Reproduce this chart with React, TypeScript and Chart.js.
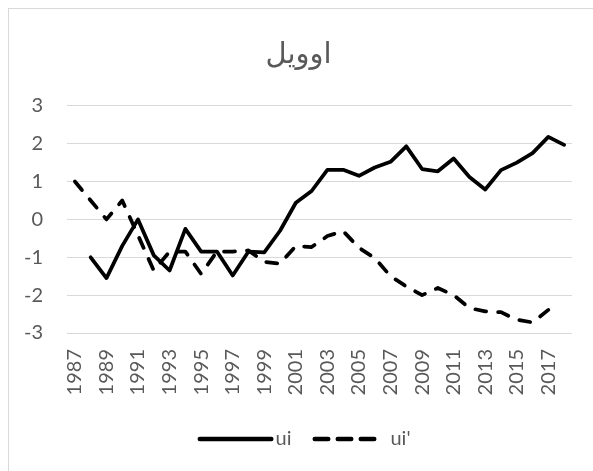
import React, { useEffect, useRef } from "react";
import { Chart, registerables } from "chart.js";

Chart.register(...registerables);

const years: string[] = [
  "1987", "1988", "1989", "1990", "1991", "1992", "1993", "1994", "1995", "1996",
  "1997", "1998", "1999", "2000", "2001", "2002", "2003", "2004", "2005", "2006",
  "2007", "2008", "2009", "2010", "2011", "2012", "2013", "2014", "2015", "2016",
  "2017", "2018",
];

const ui: (number | null)[] = [
  null, -1.0, -1.55, -0.7, 0.0, -0.95, -1.35, -0.25, -0.85, -0.85,
  -1.48, -0.85, -0.87, -0.3, 0.44, 0.75, 1.31, 1.31, 1.15, 1.37,
  1.52, 1.93, 1.33, 1.27, 1.61, 1.12, 0.79, 1.3, 1.5, 1.75,
  2.18, 1.97,
];

const uiPrime: (number | null)[] = [
  1.0, 0.5, 0.0, 0.5, -0.42, -1.35, -0.85, -0.85, -1.44, -0.85,
  -0.85, -0.82, -1.12, -1.17, -0.7, -0.73, -0.44, -0.31, -0.75, -1.02,
  -1.5, -1.77, -2.0, -1.81, -2.0, -2.34, -2.43, -2.45, -2.65, -2.72,
  -2.39, null,
];

const yTicks: number[] = [-3, -2, -1, 0, 1, 2, 3];

const titleText = "اوویل";
const seriesNames = ["ui", "ui'"];

const TICK_FONT = 'Lato, "Open Sans", sans-serif';

// legend sample: 160px-wide image, line drawn from x=51.5 over 76px
function makeLegendImage(dashed: boolean): HTMLCanvasElement {
  const c = document.createElement("canvas");
  c.width = 160;
  c.height = 8;
  const ctx = c.getContext("2d")!;
  ctx.strokeStyle = "#000000";
  ctx.lineWidth = 4.5;
  ctx.lineCap = "round";
  ctx.beginPath();
  const x0 = 51.5 + 2.25;
  if (dashed) {
    ctx.setLineDash([13.5, 9.5]);
    ctx.moveTo(x0, 4);
    ctx.lineTo(x0 + 59.5, 4);
  } else {
    ctx.moveTo(x0, 4);
    ctx.lineTo(x0 + 71.5, 4);
  }
  ctx.stroke();
  return c;
}

export default function App() {
  const ref = useRef<HTMLCanvasElement | null>(null);

  useEffect(() => {
    if (!ref.current) return;
    const legendImgs = [makeLegendImage(false), makeLegendImage(true)];
    const chart = new Chart(ref.current, {
      type: "line",
      data: {
        labels: years,
        datasets: [
          {
            label: seriesNames[0],
            data: ui,
            borderColor: "#000000",
            backgroundColor: "#000000",
            borderWidth: 3.75,
            borderCapStyle: "round",
            borderJoinStyle: "round",
            pointRadius: 0,
            tension: 0,
          },
          {
            label: seriesNames[1],
            data: uiPrime,
            borderColor: "#000000",
            backgroundColor: "#000000",
            borderWidth: 3.75,
            borderDash: [11, 12],
            borderCapStyle: "round",
            borderJoinStyle: "round",
            pointRadius: 0,
            tension: 0,
          },
        ],
      },
      options: {
        responsive: false,
        animation: false,
        layout: { padding: { left: 16, right: 21, top: 0, bottom: 12 } },
        plugins: {
          tooltip: { enabled: false },
          title: {
            display: true,
            text: titleText,
            color: "#595959",
            font: { family: '"DejaVu Sans", sans-serif', size: 29, weight: "normal" },
            padding: { top: 29, bottom: 33 },
          },
          legend: {
            display: true,
            position: "bottom",
            labels: {
              color: "#595959",
              font: { family: TICK_FONT, size: 20 },
              usePointStyle: true,
              pointStyleWidth: 79,
              padding: 10,
              generateLabels: (c: any) =>
                Chart.defaults.plugins.legend.labels
                  .generateLabels(c)
                  .map((item: any, i: number) => ({ ...item, pointStyle: legendImgs[i] })),
            },
          },
        },
        scales: {
          x: {
            type: "category",
            offset: true,
            grid: { display: false, drawTicks: false },
            border: { display: false },
            afterFit: (axis: any) => {
              axis.paddingLeft = 0;
              axis.paddingRight = 0;
              axis.height = 86;
            },
            ticks: {
              autoSkip: false,
              maxRotation: 90,
              minRotation: 90,
              padding: 16,
              color: "#595959",
              font: { family: TICK_FONT, size: 20 },
              callback: (_v: any, i: number) => (i % 2 === 0 ? years[i] : ""),
            },
          },
          y: {
            min: -3,
            max: 3,
            grid: { color: "#d9d9d9", lineWidth: 1, drawTicks: false },
            border: { display: false },
            afterBuildTicks: (axis: any) => {
              axis.ticks = yTicks.map((v) => ({ value: v }));
            },
            afterFit: (axis: any) => {
              axis.width = 42;
            },
            ticks: {
              padding: 24,
              color: "#595959",
              font: { family: TICK_FONT, size: 20 },
            },
          },
        },
      },
    });
    return () => chart.destroy();
  }, []);

  return (
    <div
      style={{
        position: "absolute",
        left: 8,
        top: 8,
        width: 585,
        height: 463,
        boxSizing: "border-box",
        borderLeft: "1px solid #d9d9d9",
        borderTop: "1px solid #d9d9d9",
        background: "#ffffff",
      }}
    >
      <canvas ref={ref} width={584} height={462} style={{ display: "block" }} />
    </div>
  );
}
